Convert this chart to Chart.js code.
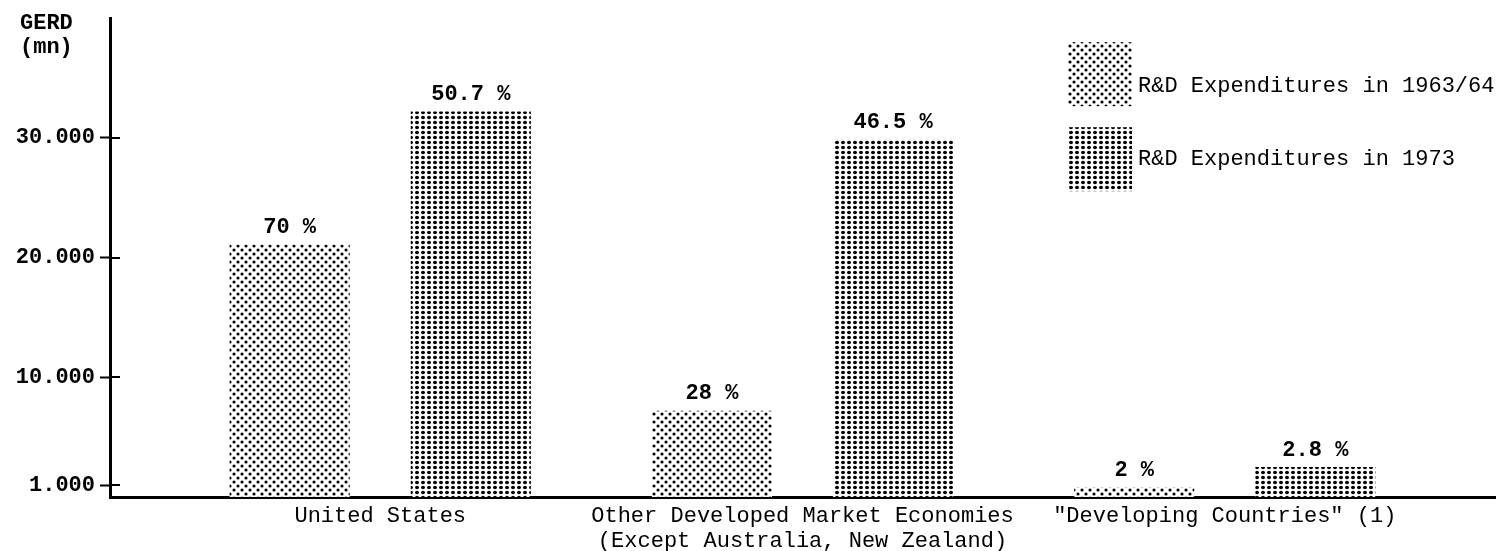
<!DOCTYPE html>
<html>
<head>
<meta charset="utf-8">
<script src="https://cdn.jsdelivr.net/npm/chart.js@4/dist/chart.umd.min.js"></script>
<style>
html,body{margin:0;padding:0;background:#fff;}
canvas{display:block;}
</style>
</head>
<body>
<canvas id="c" width="1508" height="551"></canvas>
<script>
// ---- data ----
const categories = ['United States', ['Other Developed Market Economies', '(Except Australia, New Zealand)'], '"Developing Countries" (1)'];
const seriesNames = ['R&D Expenditures in 1963/64', 'R&D Expenditures in 1973'];
const gerd1963 = [21100, 7200, 800];
const gerd1973 = [32200, 29900, 2500];
const share1963 = ['70 %', '28 %', '2 %'];
const share1973 = ['50.7 %', '46.5 %', '2.8 %'];
const yTickValues = [1000, 10000, 20000, 30000];
const yTickLabels = ['1.000', '10.000', '20.000', '30.000'];
const yTitle = ['GERD', '(mn)'];

const FONT = "'Liberation Mono', 'DejaVu Sans Mono', monospace";

function makePattern(w, h, draw) {
  const c = document.createElement('canvas');
  c.width = w; c.height = h;
  const g = c.getContext('2d');
  g.fillStyle = '#fff'; g.fillRect(0, 0, w, h);
  g.fillStyle = '#000';
  draw(g);
  return document.getElementById('c').getContext('2d').createPattern(c, 'repeat');
}
const pat1963 = makePattern(8, 8, g => {
  [[2, 2], [6, 6]].forEach(p => { g.beginPath(); g.arc(p[0], p[1], 1.55, 0, Math.PI * 2); g.fill(); });
});
const pat1973 = makePattern(6, 5, g => {
  g.beginPath(); g.ellipse(3, 2.5, 2.0, 1.7, 0, 0, Math.PI * 2); g.fill();
});

const extras = {
  id: 'extras',
  afterDraw(chart) {
    const { ctx, chartArea: a, scales: { y } } = chart;
    ctx.save();
    // inner halves of the y tick marks
    ctx.strokeStyle = '#000'; ctx.lineWidth = 2;
    yTickValues.forEach(v => {
      const py = Math.round(y.getPixelForValue(v));
      ctx.beginPath(); ctx.moveTo(a.left, py); ctx.lineTo(a.left + 10, py); ctx.stroke();
    });
    // value labels
    ctx.fillStyle = '#000';
    ctx.font = 'bold 22px ' + FONT;
    ctx.textAlign = 'center'; ctx.textBaseline = 'middle';
    [share1963, share1973].forEach((arr, d) => {
      chart.getDatasetMeta(d).data.forEach((el, i) => ctx.fillText(arr[i], el.x, el.y - 17));
    });
    // axis title
    ctx.textAlign = 'left';
    ctx.fillText(yTitle[0], 20, 23);
    ctx.fillText(yTitle[1], 20, 47);
    // legend
    ctx.font = '22px ' + FONT;
    const lx = a.right - 427;
    const tops = [a.top + 24, a.top + 109];
    const textY = [a.top + 68, a.top + 141];
    chart.data.datasets.forEach((ds, d) => {
      ctx.fillStyle = ds.backgroundColor;
      ctx.fillRect(lx, tops[d], 64, 64);
      ctx.fillStyle = '#000';
      ctx.fillText(ds.label, lx + 70, textY[d]);
    });
    ctx.restore();
  }
};

new Chart(document.getElementById('c'), {
  type: 'bar',
  data: {
    datasets: [
      { label: seriesNames[0], data: categories.map((c, i) => ({ x: i, y: gerd1963[i] })),
        backgroundColor: pat1963, borderWidth: 0, categoryPercentage: 0.858, barPercentage: 0.663 },
      { label: seriesNames[1], data: categories.map((c, i) => ({ x: i, y: gerd1973[i] })),
        backgroundColor: pat1973, borderWidth: 0, categoryPercentage: 0.858, barPercentage: 0.663 }
    ]
  },
  options: {
    responsive: false,
    animation: false,
    devicePixelRatio: 1,
    events: [],
    layout: { padding: { top: 14, right: 13, left: 0, bottom: 0 } },
    plugins: { legend: { display: false }, tooltip: { enabled: false } },
    scales: {
      x: {
        type: 'linear', min: -0.64, max: 2.64, offset: false,
        grid: { display: false, drawTicks: false },
        border: { display: true, color: '#000', width: 3 },
        afterBuildTicks: s => { s.ticks = categories.map((c, i) => ({ value: i })); },
        afterFit: s => { s.height = 54; },
        ticks: { callback: v => categories[v], color: '#000', autoSkip: false, maxRotation: 0,
                 font: { family: FONT, size: 22, lineHeight: 1.13 }, padding: 7 }
      },
      y: {
        min: 0, max: 40000,
        grid: { drawOnChartArea: false, drawTicks: true, tickLength: 10, tickWidth: 2, tickColor: '#000' },
        border: { color: '#000', width: 3 },
        afterBuildTicks: s => { s.ticks = yTickValues.map(v => ({ value: v })); },
        afterFit: s => { s.width = 110; },
        ticks: { callback: v => yTickLabels[yTickValues.indexOf(v)], color: '#000', padding: 5,
                 font: { family: FONT, size: 22, weight: 'bold' } }
      }
    }
  },
  plugins: [extras]
});
</script>
</body>
</html>
